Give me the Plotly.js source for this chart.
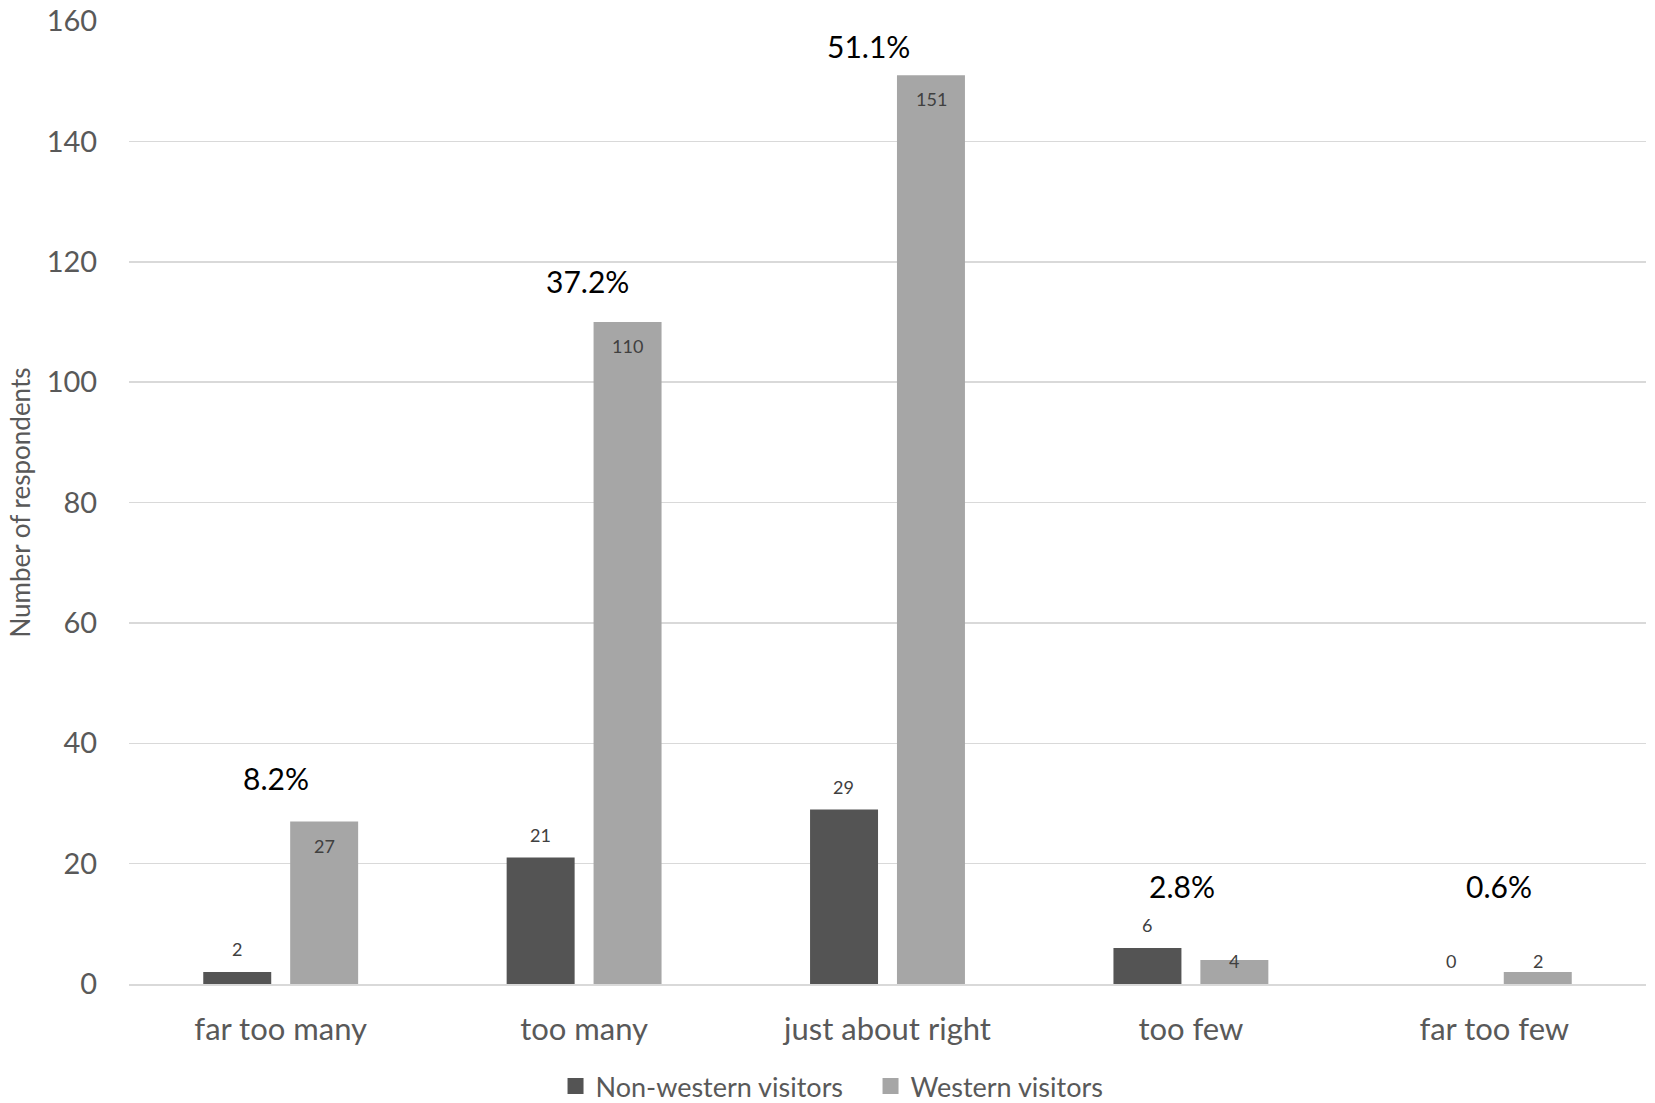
<!DOCTYPE html>
<html>
<head>
<meta charset="utf-8">
<script src="https://cdn.plot.ly/plotly-3.0.1.min.js"></script>
<style>html,body{margin:0;padding:0;background:#fff;}#chart{width:1655px;height:1103px;}</style>
</head>
<body>
<div id="chart"></div>
<script>
// ---- data ----
var categories = ["far too many", "too many", "just about right", "too few", "far too few"];
var nonWestern = [2, 21, 29, 6, 0];
var western = [27, 110, 151, 4, 2];
var shareLabels = ["8.2%", "37.2%", "51.1%", "2.8%", "0.6%"];
var seriesNames = ["Non-western visitors", "Western visitors"];
var yTicks = [0, 20, 40, 60, 80, 100, 120, 140, 160];

// ---- layout / style ----
var FONT = "Lato, 'Open Sans', sans-serif";
var darkColor = "#545454", lightColor = "#a6a6a6";
var barOffset = 0.1434;              // half slot width in category units
var shareY = [34.2, 116.8, 155.8, 16.3, 16.3];   // label placement (y axis units)
var shareDx = [-0.016, 0.01, -0.063, -0.03, 0.016];

var traces = [
  {type: "bar", name: seriesNames[0], x: categories, y: nonWestern, showlegend: false,
   marker: {color: darkColor}, hoverinfo: "x+y+name"},
  {type: "bar", name: seriesNames[1], x: categories, y: western, showlegend: false,
   marker: {color: lightColor}, hoverinfo: "x+y+name"},
  // legend keys (square swatches)
  {type: "scatter", mode: "markers", name: seriesNames[0], x: [null], y: [null],
   marker: {symbol: "square", size: 16, color: darkColor}, hoverinfo: "skip"},
  {type: "scatter", mode: "markers", name: seriesNames[1], x: [null], y: [null],
   marker: {symbol: "square", size: 16, color: lightColor}, hoverinfo: "skip"}
];

var annotations = [];
categories.forEach(function (c, i) {
  annotations.push({x: i - barOffset, y: nonWestern[i] + 3.8, xref: "x", yref: "y",
    text: String(nonWestern[i]), showarrow: false, yanchor: "middle",
    font: {family: FONT, size: 18, color: "#404040"}});
  annotations.push({x: i + barOffset, y: Math.max(western[i] - 4, 3.8), xref: "x", yref: "y",
    text: String(western[i]), showarrow: false, yanchor: "middle",
    font: {family: FONT, size: 18, color: "#404040"}});
  annotations.push({x: i + shareDx[i], y: shareY[i], xref: "x", yref: "y",
    text: shareLabels[i], showarrow: false, yanchor: "middle",
    font: {family: FONT, size: 30, color: "#000000"}});
});

var layout = {
  width: 1655, height: 1103,
  margin: {l: 129, r: 9, t: 21, b: 119},
  paper_bgcolor: "#ffffff", plot_bgcolor: "#ffffff",
  barmode: "group", bargap: 0.427, bargroupgap: 0.218,
  font: {family: FONT, color: "#595959"},
  xaxis: {type: "category", showgrid: false, zeroline: false, showline: true,
    linecolor: "#d9d9d9", linewidth: 2,
    ticks: "outside", ticklen: 17, tickcolor: "rgba(0,0,0,0)",
    tickfont: {family: FONT, size: 31, color: "#595959"}},
  yaxis: {range: [0, 160], tickvals: yTicks, showgrid: true, gridcolor: "#d9d9d9",
    gridwidth: 1.5, zeroline: false, showline: false,
    ticks: "outside", ticklen: 25, tickcolor: "rgba(0,0,0,0)",
    tickfont: {family: FONT, size: 29, color: "#595959"},
    title: {text: "Number of respondents", standoff: 8,
      font: {family: FONT, size: 26, color: "#595959"}}},
  showlegend: true,
  legend: {orientation: "h", xref: "container", yref: "container",
    x: 0.526, xanchor: "center", y: 0.015, yanchor: "middle",
    font: {family: FONT, size: 27, color: "#595959"}, itemwidth: 30,
    entrywidth: 270, traceorder: "normal"},
  annotations: annotations
};

Plotly.newPlot("chart", traces, layout, {displayModeBar: false, staticPlot: true});
</script>
</body>
</html>
